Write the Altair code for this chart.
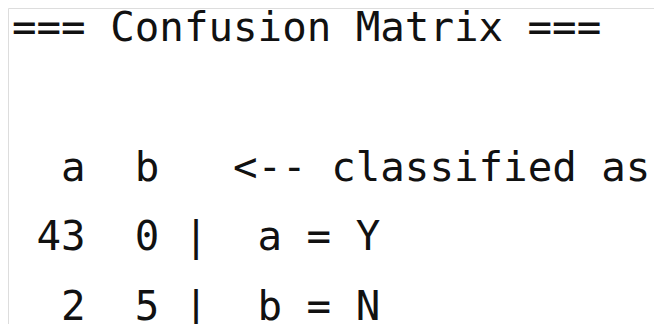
import re
import altair as alt
import pandas as pd

# ---- data ----
title = "=== Confusion Matrix ==="
class_labels = ["a", "b"]
class_names = ["Y", "N"]
matrix = [[43, 0], [2, 5]]
header_suffix = "<-- classified as"

# Build the Weka-style text lines
lines = [title, ""]
lines.append("".join(f"{lab:>3}" for lab in class_labels) + "   " + header_suffix)
for lab, name, row in zip(class_labels, class_names, matrix):
    lines.append("".join(f"{v:>3}" for v in row) + " |  " + f"{lab} = {name}")

records = []
for r, line in enumerate(lines):
    for m in re.finditer(r"\S+", line):
        records.append({"text": m.group(0), "col": m.start(), "row": r})
df = pd.DataFrame(records)

chart = (
    alt.Chart(df)
    .mark_text(
        font="DejaVu Sans Mono",
        fontSize=40.8,
        align="left",
        baseline="alphabetic",
        color="#111111",
    )
    .encode(
        x=alt.X("col:Q", scale=alt.Scale(domain=[0, 26], range=[4, 642.3]), axis=None),
        y=alt.Y("row:Q", scale=alt.Scale(domain=[0, 4], range=[33, 312]), axis=None),
        text="text:N",
    )
    .properties(width=646, height=316, autosize=alt.AutoSizeParams(type="none"), padding=0)
    .configure_view(stroke=None)
    .configure(background="transparent")
)

chart.save("out.html", embed_options={"renderer": "svg", "actions": False})
